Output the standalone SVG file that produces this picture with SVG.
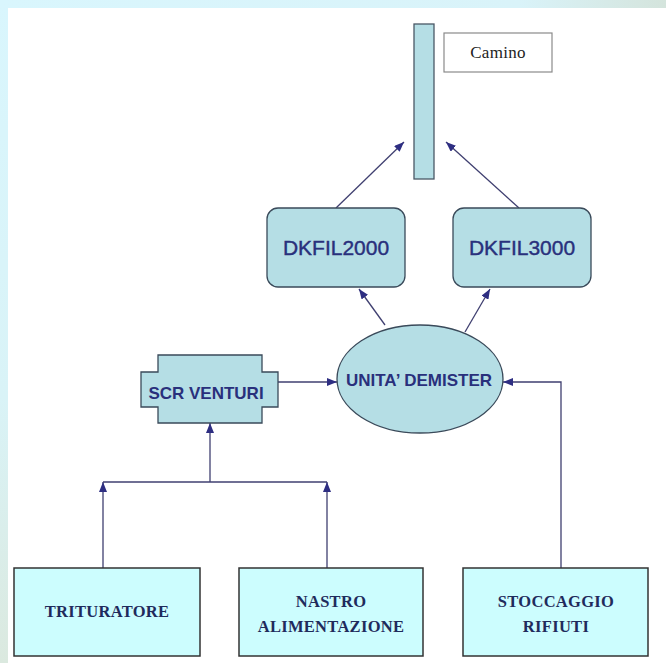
<svg xmlns="http://www.w3.org/2000/svg" width="666" height="663" viewBox="0 0 666 663">
<defs>
<linearGradient id="topband" x1="0" y1="0" x2="1" y2="0">
<stop offset="0" stop-color="#d9f6fd"/>
<stop offset="0.78" stop-color="#d9f3f9"/>
<stop offset="1" stop-color="#d4e4dc"/>
</linearGradient>
<linearGradient id="leftband" x1="0" y1="0" x2="0" y2="1">
<stop offset="0" stop-color="#d9f6fd"/>
<stop offset="0.6" stop-color="#d9f3f7"/>
<stop offset="1" stop-color="#dbe9df"/>
</linearGradient>
<marker id="ah" viewBox="0 0 10 8" refX="10" refY="4" markerWidth="10" markerHeight="8" markerUnits="userSpaceOnUse" orient="auto">
<path d="M0,0 L10,4 L0,8 Z" fill="#2e2e82"/>
</marker>
<style>
.con{fill:none;stroke:#3f3f70;stroke-width:1.3}
.arr{marker-end:url(#ah)}
.blue{fill:#b5dee5;stroke:#3a4a5a;stroke-width:1.3}
.cyan{fill:#ccfdfe;stroke:#333;stroke-width:1.5}
.sans{font-family:"Liberation Sans",Arial,sans-serif;fill:#29307c;text-anchor:middle}
.serif{font-family:"Liberation Serif","Times New Roman",serif;font-weight:bold;font-size:16.5px;fill:#1f2b5c;text-anchor:middle;letter-spacing:0.3px}
</style>
</defs>
<rect x="0" y="0" width="666" height="663" fill="url(#leftband)"/>
<rect x="0" y="0" width="666" height="8" fill="url(#topband)"/>
<rect x="8" y="8" width="658" height="655" fill="#ffffff"/>

<g id="connectors">
<path class="con arr" d="M336,208 L404,142"/>
<path class="con arr" d="M519,208 L446,142"/>
<path class="con arr" d="M385,325 L359,289"/>
<path class="con arr" d="M465,332 L490,289"/>
<path class="con arr" d="M278,382 L337,382"/>
<path class="con arr" d="M561,568 L561,382 L503,382"/>
<path class="con arr" d="M210,482 L210,423"/>
<path class="con" d="M103,482 L327,482"/>
<path class="con arr" d="M103,568 L103,482"/>
<path class="con arr" d="M327,568 L327,482"/>
</g>

<g id="camino">
<rect x="414" y="24" width="20" height="155" fill="#b5dee5" stroke="#4a5866" stroke-width="1.3"/>
<rect x="444" y="33" width="108" height="39" fill="#ffffff" stroke="#8a8a8a" stroke-width="1.2"/>
<text x="498" y="58" font-family="'Liberation Serif','Times New Roman',serif" font-size="17" fill="#222" text-anchor="middle" letter-spacing="0.3">Camino</text>
</g>

<g id="dkfil2000">
<rect class="blue" x="267" y="208" width="138" height="79" rx="11"/>
<text class="sans" x="336" y="255" font-size="21" stroke="#29307c" stroke-width="0.4">DKFIL2000</text>
</g>

<g id="dkfil3000">
<rect class="blue" x="453" y="208" width="138" height="79" rx="11"/>
<text class="sans" x="522" y="255" font-size="21" stroke="#29307c" stroke-width="0.4">DKFIL3000</text>
</g>

<g id="demister">
<ellipse class="blue" cx="420" cy="379" rx="83" ry="54"/>
<text class="sans" x="419" y="386" font-size="17" font-weight="bold">UNITA’ DEMISTER</text>
</g>

<g id="scr-venturi">
<path class="blue" d="M158,355 L262,355 L262,372 L278,372 L278,407 L262,407 L262,423 L158,423 L158,407 L141,407 L141,372 L158,372 Z"/>
<text class="sans" x="206" y="399" font-size="17" font-weight="bold">SCR VENTURI</text>
</g>

<g id="trituratore">
<rect class="cyan" x="14" y="568" width="186" height="88"/>
<text class="serif" x="107" y="617">TRITURATORE</text>
</g>

<g id="nastro">
<rect class="cyan" x="239" y="568" width="184" height="88"/>
<text class="serif" x="331" y="607">NASTRO</text>
<text class="serif" x="331" y="632">ALIMENTAZIONE</text>
</g>

<g id="stoccaggio">
<rect class="cyan" x="463" y="568" width="185" height="88"/>
<text class="serif" x="556" y="607">STOCCAGGIO</text>
<text class="serif" x="556" y="632">RIFIUTI</text>
</g>
</svg>
